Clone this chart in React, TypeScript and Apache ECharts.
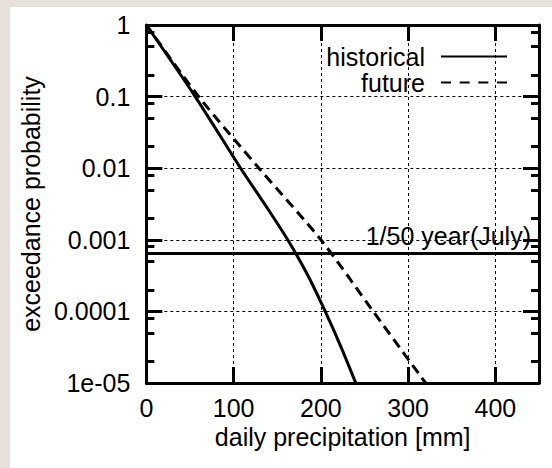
import React, { useEffect, useRef } from 'react';
import * as echarts from 'echarts';

// Historical exceedance curve: daily precipitation [mm] vs exceedance probability
const historicalX = [0, 56, 108, 136, 162, 185, 205, 223, 240];
const historicalP = [1, 0.1, 0.01, 0.0031, 0.001, 0.00032, 0.0001, 0.000032, 0.00001];

// Future exceedance curve
const futureX = [0, 60, 129, 200, 260, 320];
const futureP = [1, 0.1, 0.01, 0.001, 0.0001, 0.00001];

// 1/50-year level for July (one day in 50 Julys)
const returnLevelName = '1/50 year(July)';
const returnLevelP = 1 / (50 * 31);

const xMin = 0;
const xMax = 450;
const xStep = 100;
const yTickLabels = ['1e-05', '0.0001', '0.001', '0.01', '0.1', '1'];
const minorMultipliers = [2, 5, 8];

const seriesNames = ['historical', 'future'];
const xTitle = 'daily precipitation [mm]';
const yTitle = 'exceedance probability';

export default function App() {
  const ref = useRef<HTMLDivElement>(null);

  useEffect(() => {
    if (!ref.current) return;
    const chart = echarts.init(ref.current, null, { renderer: 'svg' });
    const font = "'Liberation Sans', Arial, Helvetica, sans-serif";
    const black = '#000';
    const fs = 25;

    const minorVals: number[] = [];
    for (let k = -5; k < 0; k++) {
      for (const m of minorMultipliers) minorVals.push(+(m * Math.pow(10, k)).toPrecision(3));
    }

    const majorTick = { show: true, inside: true, length: 16, lineStyle: { color: black, width: 3 } };
    const minorTick = {
      show: true,
      inside: true,
      length: 8,
      customValues: minorVals,
      lineStyle: { color: black, width: 3 },
    };
    const axisLine = { show: true, onZero: false, lineStyle: { color: black, width: 3 } };
    const noAxisLine = { show: false, onZero: false };
    const gridLine = { show: true, lineStyle: { color: black, width: 1, type: [3, 3] } };
    const yBase = { type: 'log', logBase: 10, min: 1e-5, max: 1 };

    const legendText = { fontSize: fs, color: black, fontFamily: font, lineHeight: 25, padding: [0, 11, 0, 0] };
    const legendCommon = {
      right: 44,
      orient: 'vertical',
      align: 'right',
      padding: 0,
      itemWidth: 66,
      itemHeight: 12,
      selectedMode: false,
      textStyle: legendText,
      itemStyle: { color: 'rgba(0,0,0,0)', borderColor: 'rgba(0,0,0,0)', borderWidth: 0, opacity: 0 },
    };

    const option = {
      animation: false,
      backgroundColor: '#ffffff',
      textStyle: { fontFamily: font, color: black },
      grid: { left: 134, top: 18, right: 13, bottom: 85, containLabel: false },
      legend: [
        { ...legendCommon, data: [seriesNames[0]], top: 37 },
        { ...legendCommon, data: [seriesNames[1]], top: 63, lineStyle: { type: [10, 8.67] } },
      ],
      xAxis: [
        {
          type: 'value',
          min: xMin,
          max: xMax,
          interval: xStep,
          position: 'bottom',
          name: xTitle,
          nameLocation: 'middle',
          nameGap: 40,
          nameTextStyle: { fontSize: fs, color: black, fontFamily: font },
          axisLine,
          axisTick: majorTick,
          axisLabel: { fontSize: fs, color: black, fontFamily: font, margin: 12, showMaxLabel: false },
          splitLine: gridLine,
        },
        {
          type: 'value',
          min: xMin,
          max: xMax,
          interval: xStep,
          position: 'top',
          axisLine,
          axisTick: majorTick,
          axisLabel: { show: false },
          splitLine: { show: false },
        },
      ],
      yAxis: [
        {
          ...yBase,
          position: 'left',
          name: yTitle,
          nameLocation: 'middle',
          nameGap: 97,
          nameTextStyle: { fontSize: fs, color: black, fontFamily: font },
          axisLine,
          axisTick: majorTick,
          axisLabel: {
            fontSize: fs,
            color: black,
            fontFamily: font,
            margin: 16,
            formatter: (v: number) => yTickLabels[Math.round(Math.log10(v)) + 5] ?? '',
          },
          splitLine: gridLine,
        },
        {
          ...yBase,
          position: 'left',
          axisLine: noAxisLine,
          axisTick: minorTick,
          axisLabel: { show: false },
          splitLine: { show: false },
        },
        {
          ...yBase,
          position: 'right',
          axisLine,
          axisTick: majorTick,
          axisLabel: { show: false },
          splitLine: { show: false },
        },
        {
          ...yBase,
          position: 'right',
          axisLine: noAxisLine,
          axisTick: minorTick,
          axisLabel: { show: false },
          splitLine: { show: false },
        },
      ],
      series: [
        {
          type: 'line',
          name: seriesNames[0],
          xAxisIndex: 0,
          yAxisIndex: 0,
          data: historicalX.map((x, i) => [x, historicalP[i]]),
          symbol: 'none',
          showSymbol: false,
          smooth: 0.3,
          lineStyle: { color: black, width: 3, type: 'solid' },
          itemStyle: { color: black },
          z: 3,
        },
        {
          type: 'line',
          name: seriesNames[1],
          xAxisIndex: 0,
          yAxisIndex: 0,
          data: futureX.map((x, i) => [x, futureP[i]]),
          symbol: 'none',
          showSymbol: false,
          smooth: 0.3,
          lineStyle: { color: black, width: 3, type: [10, 6] },
          itemStyle: { color: black },
          z: 3,
        },
        {
          type: 'line',
          name: returnLevelName,
          xAxisIndex: 0,
          yAxisIndex: 0,
          silent: true,
          data: [
            [xMin, returnLevelP],
            [xMax, returnLevelP],
          ],
          symbol: 'none',
          showSymbol: false,
          lineStyle: { color: black, width: 3, type: 'solid' },
          itemStyle: { color: black },
          endLabel: {
            show: true,
            formatter: returnLevelName,
            align: 'right',
            verticalAlign: 'middle',
            distance: 0,
            offset: [-8, -17],
            fontSize: fs,
            color: black,
            fontFamily: font,
          },
          z: 2,
        },
      ],
    };

    chart.setOption(option as any);
    return () => chart.dispose();
  }, []);

  return (
    <div style={{ position: 'fixed', left: 0, top: 0, width: 552, height: 468, background: '#e8e0da' }}>
      <div style={{ position: 'absolute', left: 10, top: 7, width: 542, height: 461, background: '#ffffff' }}>
        <div ref={ref} style={{ width: 542, height: 461 }} />
      </div>
    </div>
  );
}
